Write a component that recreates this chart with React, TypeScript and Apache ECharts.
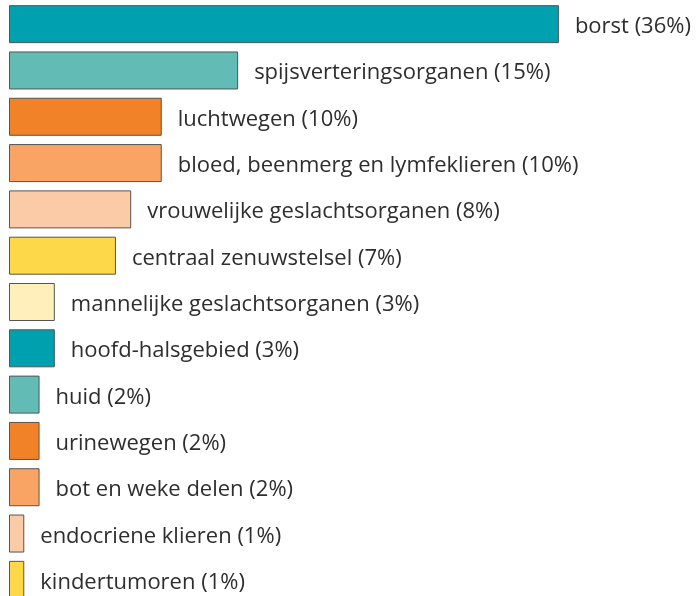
import React, { useEffect, useRef } from "react";
import * as echarts from "echarts";

const categories = [
  "borst",
  "spijsverteringsorganen",
  "luchtwegen",
  "bloed, beenmerg en lymfeklieren",
  "vrouwelijke geslachtsorganen",
  "centraal zenuwstelsel",
  "mannelijke geslachtsorganen",
  "hoofd-halsgebied",
  "huid",
  "urinewegen",
  "bot en weke delen",
  "endocriene klieren",
  "kindertumoren",
];
const values = [36, 15, 10, 10, 8, 7, 3, 3, 2, 2, 2, 1, 1];
const colors = [
  "#00A0AE",
  "#62BBB5",
  "#F28228",
  "#F9A464",
  "#FACBA6",
  "#FDD94A",
  "#FFEFBB",
  "#00A0AE",
  "#62BBB5",
  "#F28228",
  "#F9A464",
  "#FACBA6",
  "#FDD94A",
];

export default function App() {
  const ref = useRef<HTMLDivElement>(null);
  useEffect(() => {
    if (!ref.current) return;
    const chart = echarts.init(ref.current, undefined, { renderer: "svg" });
    chart.setOption({
      animation: false,
      grid: { left: 9, top: 1, width: 611, height: 602, outerBoundsMode: "none", containLabel: false },
      xAxis: { type: "value", min: 0, max: 40, show: false },
      yAxis: {
        type: "category",
        data: categories,
        inverse: true,
        show: false,
      },
      series: [
        {
          type: "bar",
          barWidth: 38,
          data: values.map((v, i) => ({
            value: v,
            itemStyle: { color: colors[i] },
          })),
          itemStyle: { borderColor: "#555555", borderWidth: 1 },
          label: {
            show: true,
            position: "right",
            distance: 16,
            formatter: (p: any) => `${categories[p.dataIndex]} (${p.value}%)`,
            color: "#2e2e2e",
            fontSize: 22,
            fontFamily: "Open Sans",
          },
        },
      ],
    });
    return () => chart.dispose();
  }, []);
  return <div ref={ref} style={{ width: 697, height: 596, position: "fixed", left: 0, top: 0 }} />;
}
